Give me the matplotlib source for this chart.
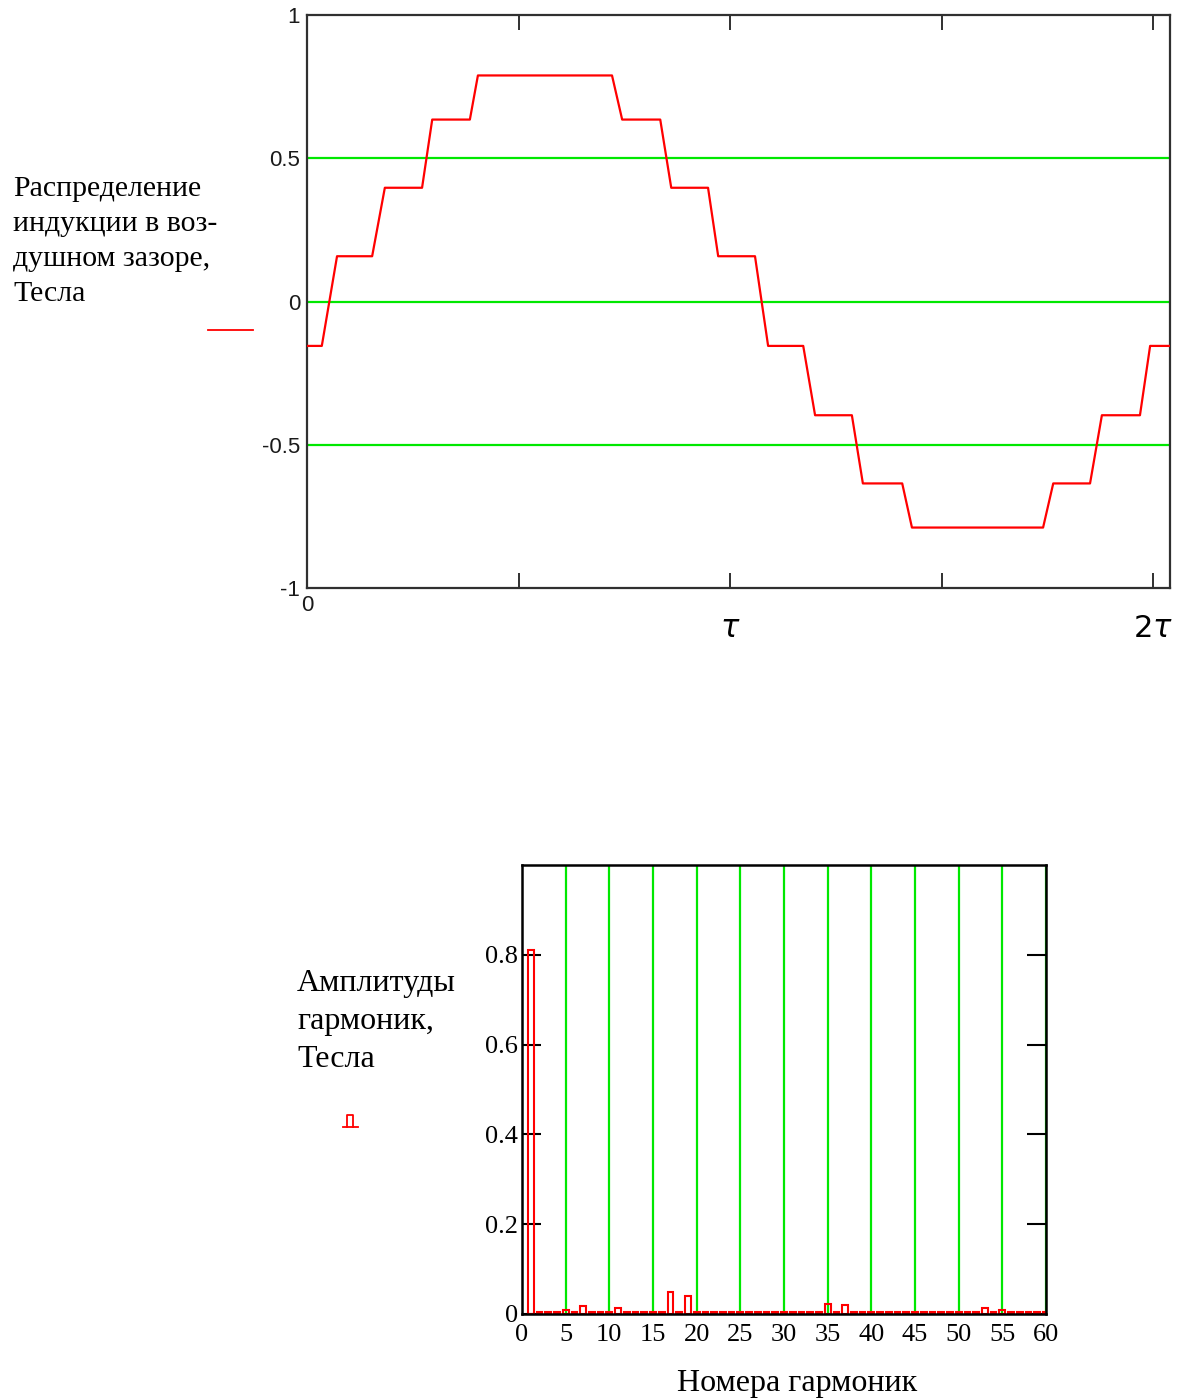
import matplotlib
matplotlib.use("Agg")
import matplotlib.pyplot as plt
from matplotlib.lines import Line2D

# Top chart: air-gap flux density over two pole pitches (x in units of tau)
x_tau = [0, 0.035, 0.071, 0.154, 0.184, 0.272, 0.296, 0.385, 0.404, 0.721,
         0.745, 0.835, 0.861, 0.948, 0.972, 1.059, 1.090, 1.173, 1.201, 1.288,
         1.314, 1.407, 1.430, 1.740, 1.764, 1.851, 1.879, 1.969, 1.993, 2.04]
b_tesla = [-0.155, -0.155, 0.158, 0.158, 0.397, 0.397, 0.635, 0.635, 0.789, 0.789,
           0.635, 0.635, 0.397, 0.397, 0.158, 0.158, -0.155, -0.155, -0.397, -0.397,
           -0.635, -0.635, -0.789, -0.789, -0.635, -0.635, -0.397, -0.397, -0.155, -0.155]
top_yticks = [-1, -0.5, 0, 0.5, 1]
top_ylabels = ['-1', '-0.5', '0', '0.5', '1']
top_grid = [-0.5, 0, 0.5]
top_xticks = [0, 0.5, 1, 1.5, 2]

# Bottom chart: harmonic amplitudes
harmonics = list(range(1, 61))
amplitudes = [0.004] * 60
big = {1: 0.81, 5: 0.008, 7: 0.017, 11: 0.013, 17: 0.049, 19: 0.039,
       35: 0.022, 37: 0.019, 53: 0.013, 55: 0.009}
for h, a in big.items():
    amplitudes[h - 1] = a
bot_yticks = [0, 0.2, 0.4, 0.6, 0.8]
bot_ylabels = ['0', '0.2', '0.4', '0.6', '0.8']
bot_xticks = list(range(0, 61, 5))

RED = '#ff0000'
GREEN = '#00e800'
AXC = '#303030'
SERIF = 'Liberation Serif'
SANS = 'Liberation Sans'

W, H = 1197, 1398
fig = plt.figure(figsize=(W / 100, H / 100), dpi=100)


def fx(px):
    return px / W


def fy(py):
    return 1 - py / H


# ---- top chart ----
ax1 = fig.add_axes([fx(307), fy(588), fx(1170) - fx(307), fy(15) - fy(588)])
for g in top_grid:
    ax1.axhline(g, color=GREEN, lw=1.6, zorder=1)
ax1.plot(x_tau, b_tesla, color=RED, lw=1.6, zorder=3)
ax1.set_xlim(0, 2.04)
ax1.set_ylim(-1, 1)
ax1.set_yticks(top_yticks, top_ylabels, fontfamily=SANS, fontsize=16, color='#1a1a1a')
ax1.tick_params(axis='y', length=0, pad=5)
ax1.set_xticks(top_xticks, [''] * len(top_xticks))
ax1.tick_params(axis='x', direction='in', length=11, width=1.4, color=AXC,
                top=True, labelbottom=False)
for s in ax1.spines.values():
    s.set_color(AXC)
    s.set_linewidth(1.6)
xt = ax1.get_xaxis_transform()
ax1.text(0, -0.012, '0', transform=xt, ha='center', va='top',
         fontfamily=SANS, fontsize=16, color='#1a1a1a')
ax1.text(1, -0.045, r'$\tau$', transform=xt, ha='center', va='top', fontsize=22)
ax1.text(2, -0.045, r'$2\tau$', transform=xt, ha='center', va='top', fontsize=22)

fig.text(fx(13), fy(176), 'Распределение\nиндукции в воз-\nдушном зазоре,\nТесла',
         ha='left', va='top', fontfamily=SERIF, fontsize=21.5, linespacing=1.45)
fig.add_artist(Line2D([fx(208), fx(253)], [fy(330), fy(330)], color=RED, lw=1.3))

# ---- bottom chart ----
ax2 = fig.add_axes([fx(522), fy(1314), fx(1046) - fx(522), fy(865) - fy(1314)])
for g in bot_xticks[1:]:
    ax2.axvline(g, color=GREEN, lw=1.6, zorder=1)
ax2.bar(harmonics, amplitudes, width=0.65, fill=False, edgecolor=RED, lw=1.5, zorder=2)
ax2.set_xlim(0, 60)
ax2.set_ylim(0, 1)
ax2.set_xticks(bot_xticks, [str(v) for v in bot_xticks], fontfamily=SERIF, fontsize=19)
ax2.tick_params(axis='x', length=0, pad=7)
ax2.set_yticks(bot_yticks, bot_ylabels, fontfamily=SERIF, fontsize=19)
ax2.tick_params(axis='y', direction='in', length=14, width=1.5, right=True, pad=3)
for s in ax2.spines.values():
    s.set_color('black')
    s.set_linewidth(1.8)

fig.text(fx(797), fy(1383), 'Номера гармоник', ha='center', va='center',
         fontfamily=SERIF, fontsize=23)
fig.text(fx(297), fy(969), 'Амплитуды\nгармоник,\nТесла', ha='left', va='top',
         fontfamily=SERIF, fontsize=23, linespacing=1.4)
# small bar glyph under the label
fig.add_artist(Line2D([fx(343), fx(358)], [fy(1127), fy(1127)], color=RED, lw=1.3))
fig.add_artist(Line2D([fx(347), fx(347), fx(353), fx(353)],
                      [fy(1127), fy(1115), fy(1115), fy(1127)], color=RED, lw=1.3))

fig.savefig('out.png', dpi=100, facecolor='white')
